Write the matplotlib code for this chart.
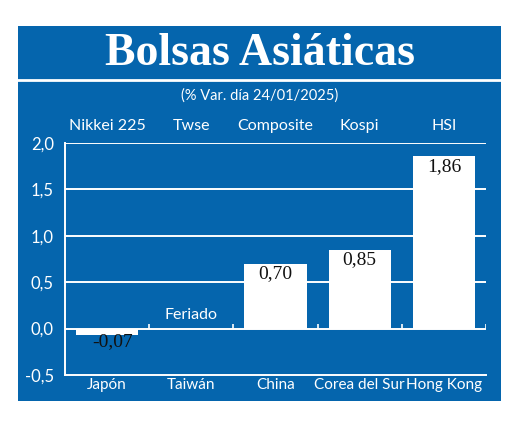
import matplotlib.pyplot as plt
import numpy as np
from matplotlib.patches import Rectangle

# Datos de las bolsas asiáticas (% var. día 24/01/2025)
paises = ['Japón', 'Taiwán', 'China', 'Corea del Sur', 'Hong Kong']
indices = ['Nikkei 225', 'Twse', 'Composite', 'Kospi', 'HSI']
variacion = [-0.07, 0.0, 0.70, 0.85, 1.86]
feriado = [False, True, False, False, False]
yticks = [-0.5, 0.0, 0.5, 1.0, 1.5, 2.0]

azul = '#0565ad'
sans = ['Lato', 'DejaVu Sans']

fig = plt.figure(figsize=(5.2, 4.21), dpi=100)

# fondo azul del recuadro
fig.patches.append(Rectangle((18/520, 20/421), 483/520, 375/421,
                             transform=fig.transFigure, facecolor=azul,
                             edgecolor='none', zorder=-5))
fig.lines.append(plt.Line2D([18/520, 501/520], [341/421, 341/421],
                            transform=fig.transFigure, color='white', lw=2,
                            zorder=-4))

fig.text(0.5, 367/421, 'Bolsas Asiáticas', ha='center', va='center',
         color='white', fontsize=33, fontweight='bold', family='Liberation Serif')
fig.text(0.5, 325/421, '(% Var. día 24/01/2025)', ha='center', va='center',
         color='white', fontsize=10.5, family=sans)

ax = fig.add_axes([65/520, 46/421, 421/520, 232/421])
ax.set_facecolor('none')
x = np.arange(len(paises))

# líneas de la cuadrícula
for y in yticks[1:]:
    ax.axhline(y, color='white', lw=1.4, zorder=1)

bars = ax.bar(x, variacion, width=0.74, color='white', zorder=2)

# marcas en la línea del cero
ax.vlines(x + 0.5, 0, 0.045, color='white', lw=1.2, zorder=1)

for i, bar in enumerate(bars):
    v = variacion[i]
    if feriado[i]:
        ax.text(bar.get_x() + bar.get_width()/2, 0.07, 'Feriado', ha='center',
                va='bottom', color='white', fontsize=11.5, family=sans)
    elif v < 0:
        ax.text(bar.get_x() + bar.get_width()/2 + 0.06, v + 0.02,
                f'{v:.2f}'.replace('.', ','), ha='center', va='top',
                color='#111111', fontsize=14, family='Liberation Serif', zorder=3)
    else:
        ax.text(bar.get_x() + bar.get_width()/2, v - 0.02,
                f'{v:.2f}'.replace('.', ','), ha='center', va='top',
                color='#111111', fontsize=14, family='Liberation Serif', zorder=3)

ax.set_xlim(-0.5, 4.5)
ax.set_ylim(-0.5, 2.0)
ax.set_yticks(yticks)
ax.set_yticklabels([f'{t:.1f}'.replace('.', ',') for t in yticks],
                   color='white', fontsize=12, family=sans)
ax.set_xticks(x)
ax.set_xticklabels(paises, color='white', fontsize=11, family=sans)
ax.tick_params(axis='both', length=0)
ax.tick_params(axis='y', pad=8)
ax.tick_params(axis='x', pad=2)

top = ax.secondary_xaxis('top')
top.set_xticks(x)
top.set_xticklabels(indices, color='white', fontsize=11.5, family=sans)
top.tick_params(length=0, pad=7)
for s in top.spines.values():
    s.set_visible(False)

for s in ['top', 'right']:
    ax.spines[s].set_visible(False)
for s in ['left', 'bottom']:
    ax.spines[s].set_color('white')
    ax.spines[s].set_linewidth(1.4)

plt.savefig('out.png', dpi=100)
